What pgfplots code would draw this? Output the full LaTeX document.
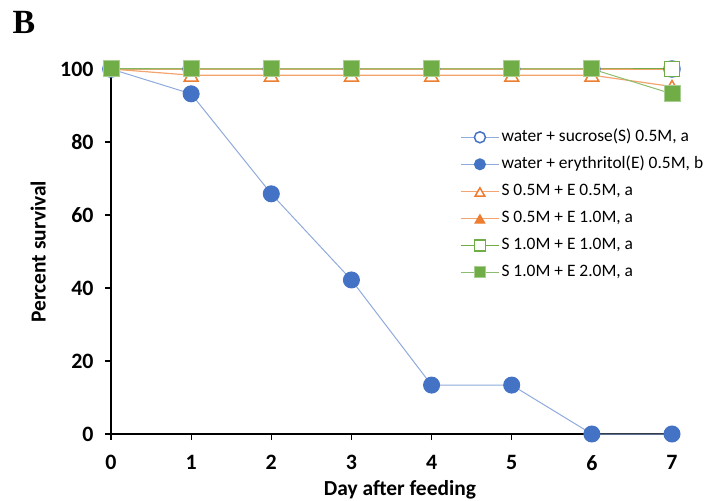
\documentclass[border=0pt]{standalone}
\usepackage{fontspec}
\setmainfont{Carlito}
\newfontfamily\serifb{Liberation Serif}
\usepackage{pgfplots}
\pgfplotsset{compat=1.18}
\definecolor{cblue}{HTML}{4472C4}
\definecolor{lblue}{HTML}{8FAADC}
\definecolor{corange}{HTML}{ED7D31}
\definecolor{cgreen}{HTML}{70AD47}
\begin{document}
\begin{tikzpicture}
\begin{axis}[
  at={(111bp,67bp)}, anchor=south west,
  scale only axis, width=561bp, height=365bp,
  xmin=0, xmax=7, ymin=0, ymax=100,
  axis lines=left, axis line style={-, line width=1.2bp, black},
  xtick={0,1,...,7}, ytick={0,20,...,100},
  tick align=outside, major tick length=6bp,
  tick style={line width=1.2bp, black},
  clip=false,
  /pgf/number format/assume math mode=true,
  tick label style={font=\fontsize{22}{22}\selectfont\bfseries},
  xticklabel style={yshift=-12bp},
  yticklabel style={xshift=-8bp},
  xlabel={\bfseries Day after feeding},
  ylabel={\bfseries Percent survival},
  label style={font=\fontsize{21.5}{21.5}\selectfont},
  xlabel style={at={(axis description cs:0.515,-0.152)}, anchor=center},
  ylabel style={at={(axis description cs:-0.130,0.5)}, anchor=center},
  legend style={at={(rel axis cs:0.617,0.847)}, anchor=north west, draw=none, fill=none,
    font=\fontsize{17.5}{17.5}\selectfont, row sep=6.5bp,
    nodes={text height=12.5bp, text depth=4bp, inner sep=2bp}},
  legend cell align=left,
  legend image code/.code={\draw[mark repeat=2, mark phase=2, #1, mark size=5.5bp] plot coordinates {(0bp,0bp)(19bp,0bp)(38bp,0bp)};},
]
\addplot[lblue, line width=1bp, mark=*, mark size=8bp, mark options={fill=white, draw=cblue, line width=1.5bp}]
 coordinates {(0,100)(1,100)(2,100)(3,100)(4,100)(5,100)(6,100)(7,100)};
\addlegendentry{water + sucrose(S) 0.5M, a}
\addplot[lblue, line width=1bp, mark=*, mark size=8bp, mark options={fill=cblue, draw=cblue}]
 coordinates {(0,100)(1,93.2)(2,65.8)(3,42.2)(4,13.4)(5,13.4)(6,0)(7,0)};
\addlegendentry{water + erythritol(E) 0.5M, b}
\addplot[corange!70, line width=1.2bp, mark=triangle*, mark size=8bp, mark options={fill=white, draw=corange, line width=1.5bp, yshift=-2bp}]
 coordinates {(0,100)(1,98.3)(2,98.3)(3,98.3)(4,98.3)(5,98.3)(6,98.3)(7,95.2)};
\addlegendentry{S 0.5M + E 0.5M, a}
\addplot[corange!70, line width=1.2bp, mark=triangle*, mark size=8bp, mark options={fill=corange, draw=corange, yshift=-2bp}]
 coordinates {(0,100)(1,100)(2,100)(3,100)(4,100)(5,100)(6,100)(7,100)};
\addlegendentry{S 0.5M + E 1.0M, a}
\addplot[cgreen, line width=1bp, mark=square*, mark size=7.5bp, mark options={fill=white, draw=cgreen, line width=1.5bp}]
 coordinates {(0,100)(1,100)(2,100)(3,100)(4,100)(5,100)(6,100)(7,100)};
\addlegendentry{S 1.0M + E 1.0M, a}
\addplot[cgreen!80, line width=1bp, mark=square*, mark size=8bp, mark options={fill=cgreen, draw=cgreen!60}]
 coordinates {(0,100)(1,100)(2,100)(3,100)(4,100)(5,100)(6,100)(7,93.2)};
\addlegendentry{S 1.0M + E 2.0M, a}
\end{axis}
\node[font=\fontsize{34}{34}\selectfont\bfseries\serifb] at (24bp,479bp) {B};
\pgfresetboundingbox
\useasboundingbox (0,0) rectangle (721bp,501bp);
\end{tikzpicture}
\end{document}
